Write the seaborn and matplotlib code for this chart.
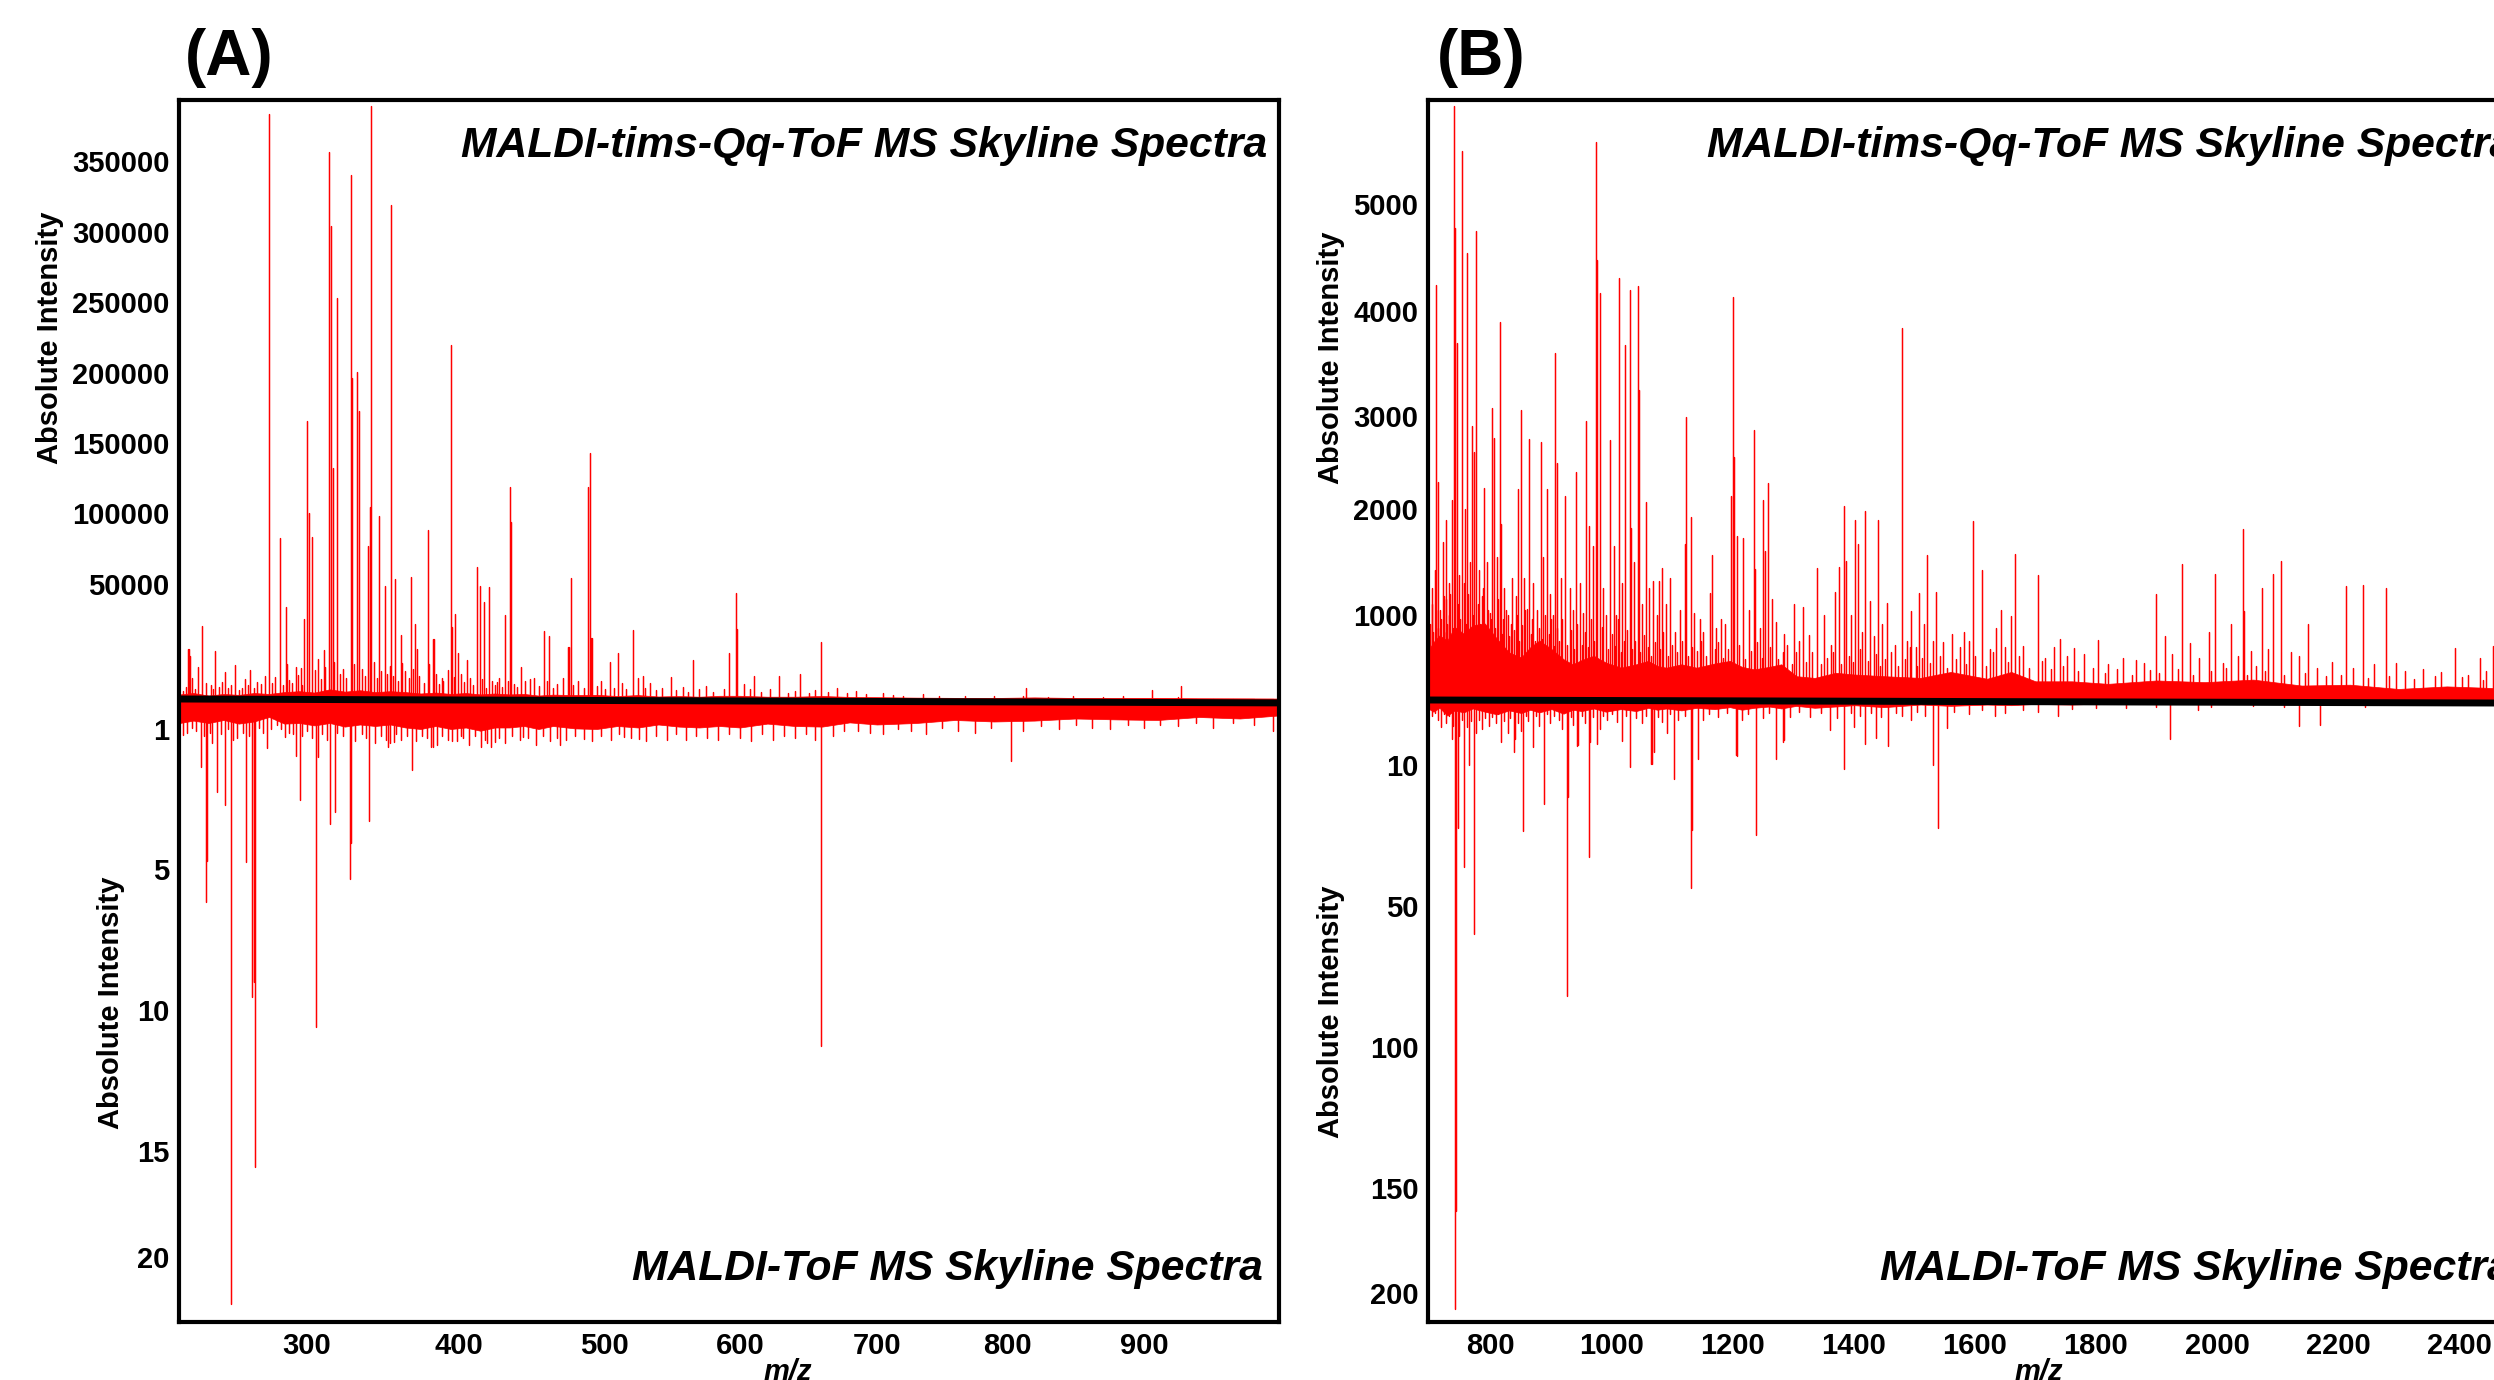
import numpy as np
import pandas as pd
import matplotlib
matplotlib.use("Agg")
import matplotlib.pyplot as plt
import seaborn as sns

sns.set_theme(style="white")
plt.rcParams["font.family"] = ["Liberation Sans", "DejaVu Sans"]

W, H = 2494, 1380

# panel A, upper spectrum
a_up_mz = [222, 221.7, 222.8, 228, 230.9, 236.4, 239.5, 245.9, 252.7, 259, 262.4, 269.9, 272, 274.7, 275, 282, 286, 286.6,
           292.7, 296.2, 298, 300, 301, 303, 307.5, 311.4, 314.5, 316, 317, 319.5, 320, 324, 329, 329.5, 332.7, 333, 334.5,
           340, 341.5, 342, 342.5, 347.5, 351.5, 355, 355.5, 358, 362, 362.8, 368.7, 371, 372.7, 380, 380.7, 383, 383.7,
           388.8, 395, 395.5, 398, 399.7, 399.9, 406, 413, 414.6, 417.6, 421, 426.7, 432, 435.5, 436, 443, 449, 458.8,
           459, 462, 462.5, 475.5, 476, 477, 489, 490.5, 491, 492, 504.4, 510, 521, 525, 528.4, 549, 565.5, 592, 597,
           597.6, 610, 628.5, 644, 659, 671, 814, 906, 927]
a_up_val = [21600, 21800, 18700, 13900, 31900, 6000, 20800, 11800, 14800, 8900, 12500, 6500, 10000, 383400, 161000, 82600,
            40000, 15100, 14100, 13600, 35000, 166000, 100000, 83000, 17500, 21500, 356000, 304500, 132000, 253000, 128000,
            12900, 340000, 196500, 21500, 201000, 172700, 77000, 104500, 389000, 233700, 97800, 49000, 14400, 319000, 53500,
            28000, 15800, 55000, 32700, 21800, 88000, 15100, 26000, 25900, 9300, 220000, 31500, 37000, 20000, 19400, 17000,
            62000, 49000, 42000, 48500, 7200, 36500, 118500, 93800, 13800, 8600, 29400, 29700, 27600, 27600, 22700, 22800,
            54000, 118500, 143000, 26700, 26600, 16100, 20000, 30000, 9300, 9800, 9500, 17000, 20000, 46000, 30600, 10000,
            10000, 11000, 25000, 4800, 4800, 3900, 5500]

# panel A, small peaks above the floor
a_minor_mz = [218, 220, 224, 226, 233, 238, 242, 244, 248, 250, 255, 257, 261, 265, 267, 277, 279, 284, 288, 290, 294, 297, 305,
              309, 312, 318, 322, 326, 331, 336, 338, 344, 346, 349, 353, 357, 360, 365, 367, 370, 374, 377, 385, 387, 390, 393,
              397, 402, 404, 408, 410, 416, 419, 423, 425, 428, 430, 434, 438, 440, 446, 452, 455, 461, 465, 468, 472, 479, 482,
              486, 495, 498, 501, 507, 513, 516, 530, 534, 538, 543, 553, 558, 562, 570, 575, 580, 588, 603, 607, 615, 622, 635,
              640, 650, 655, 664, 678, 685, 692, 705, 712, 720, 735, 748, 768, 790, 812, 830, 848, 870, 885, 925]
a_minor_val = [3500, 5200, 9000, 4500, 6800, 4200, 5200, 7500, 4800, 6200, 4000, 5000, 6200, 5000, 7200, 6800, 9500, 6000, 8200,
               7000, 10500, 6200, 12500, 8800, 14000, 16000, 11000, 9000, 15000, 13000, 10000, 16000, 9000, 12000, 11000, 9800,
               8000, 12000, 9000, 13000, 10000, 7000, 11000, 6500, 8000, 12500, 9500, 11000, 7500, 9000, 6000, 8500, 5000, 8000,
               6000, 9000, 5200, 8000, 6500, 5200, 7800, 9000, 5600, 8000, 5000, 6400, 9000, 6000, 8000, 4800, 5500, 7800, 4500,
               5000, 7000, 4200, 5000, 6800, 3800, 4800, 3900, 5200, 3200, 4200, 5800, 3000, 4500, 6500, 4200, 3000, 4200, 2800,
               3600, 2600, 3800, 3000, 2400, 3400, 2000, 2500, 1700, 1500, 2200, 1300, 1500, 1100, 1500, 1000, 1200, 900, 1100, 1000]

# panel A, lower spectrum
a_lo_mz = [218, 229.8, 229.8, 233, 234, 237, 240.5, 246, 249.5, 251.4, 259.7, 264, 265, 265.7, 273.8, 285.5, 293, 293, 295.3,
           306, 307, 315, 315, 318.4, 328.4, 329, 341, 353.7, 355, 357.4, 369, 369, 381.6, 383, 395.5, 403.3, 415.7, 419.5,
           425, 444.5, 470, 486, 514.5, 526, 659, 659.3, 686, 803, 994]
a_lo_val = [1.17, 2.08, 2.07, 6.17, 4.77, 1.4, 2.8, 3.16, 22.2, 1.31, 4.8, 9.55, 9.0, 15.76, 1.55, 1.22, 1.76, 1.77, 3.04,
            10.6, 1.8, 3.7, 2.0, 3.36, 5.36, 4.25, 3.62, 1.5, 1.4, 1.36, 2.17, 2.17, 1.5, 1.52, 1.33, 1.26, 1.5, 1.4,
            1.36, 1.22, 1.46, 1.29, 1.22, 1.29, 11.26, 4.77, 1.05, 1.9, 1.05]

# panel A, small peaks below the floor
a_lo_minor_mz = [221, 224, 227, 232, 236, 243, 248, 254, 258, 262, 268, 271, 276, 280, 283, 288, 291, 297, 300, 303, 310, 313, 320,
                 324, 332, 336, 339, 345, 349, 352, 359, 362, 366, 372, 376, 379, 386, 389, 393, 399, 402, 407, 411, 418, 422, 428,
                 432, 437, 442, 448, 453, 458, 463, 468, 474, 480, 492, 498, 505, 511, 520, 531, 538, 546, 553, 560, 568, 576, 584,
                 592, 600, 608, 616, 624, 632, 640, 648, 655, 668, 676, 695, 705, 716, 726, 738, 750, 762, 775, 788, 812, 825, 838,
                 850, 862, 875, 888, 900, 912, 925, 938, 950, 965, 980]
a_lo_minor_val = [1.1, 0.95, 1.05, 1.2, 1.1, 1.15, 1.0, 1.25, 1.1, 1.2, 0.95, 1.1, 1.0, 0.85, 1.0, 1.1, 1.15, 1.2, 1.05, 1.25, 1.15,
                  1.3, 1.1, 1.2, 1.35, 1.15, 1.25, 1.4, 1.2, 1.3, 1.15, 1.3, 1.2, 1.35, 1.2, 1.25, 1.45, 1.2, 1.3, 1.35, 1.2, 1.45,
                  1.2, 1.3, 1.5, 1.25, 1.4, 1.2, 1.3, 1.25, 1.45, 1.2, 1.35, 1.25, 1.3, 1.2, 1.35, 1.2, 1.3, 1.15, 1.25, 1.35, 1.2,
                  1.3, 1.15, 1.3, 1.2, 1.25, 1.3, 1.15, 1.25, 1.35, 1.15, 1.3, 1.2, 1.25, 1.15, 1.3, 1.2, 1.05, 1.1, 1.15, 1.0, 1.05,
                  1.15, 0.95, 1.05, 1.1, 0.95, 1.05, 0.9, 1.0, 0.85, 0.95, 1.0, 0.85, 0.95, 0.85, 0.9, 0.8, 0.95, 0.8, 0.85]

# panel A, unresolved floor
a_floor_mz = [216, 225, 235, 245, 255, 265, 275, 285, 295, 305, 315, 325, 335, 345, 355, 365, 375, 385, 395, 405, 415, 425,
              435, 445, 455, 465, 480, 495, 510, 525, 540, 555, 570, 585, 600, 620, 640, 660, 680, 700, 730, 760, 790, 820,
              850, 880, 910, 940, 970, 998]
a_floor_top = [2000, 2600, 1500, 2200, 1800, 2600, 2200, 3000, 3400, 2800, 4200, 3200, 3800, 3000, 3400, 3000, 2400, 2800,
               2200, 2600, 2000, 2400, 2000, 2200, 1500, 1900, 1700, 1800, 1300, 1700, 1100, 1300, 1000, 1400, 1400, 1000,
               1000, 1300, 900, 800, 600, 500, 450, 700, 450, 400, 450, 300, 250, 200]
a_floor_bot = [0.8, 0.72, 0.8, 0.7, 0.82, 0.75, 0.6, 0.82, 0.8, 0.88, 0.8, 0.92, 0.85, 0.9, 0.85, 0.95, 1.0, 0.9, 1.0, 0.95,
               1.05, 0.95, 0.95, 0.9, 1.0, 0.9, 0.98, 1.0, 0.9, 0.95, 0.85, 0.92, 0.95, 0.9, 0.95, 0.82, 0.9, 0.92, 0.78, 0.85,
               0.8, 0.7, 0.75, 0.72, 0.65, 0.68, 0.7, 0.6, 0.65, 0.55]

# panel B, upper spectrum
b_up_mz = [709, 713, 720, 726, 739.6, 741, 743.6, 752, 753, 752.5, 760, 769, 772.7, 775, 788, 802.5, 805, 815, 816.6, 845, 849,
           863, 882, 893, 906, 908.5, 922, 940, 957, 962, 974, 976, 979.6, 981, 996, 1012, 1022, 1029.5, 1031, 1043, 1044,
           1057, 1068, 1082, 1096, 1121, 1122, 1130, 1146, 1162, 1166, 1180, 1196.6, 1200, 1201.6, 1207, 1216, 1234, 1237,
           1250, 1253, 1258, 1271, 1301, 1316, 1339, 1369, 1375, 1384, 1387, 1402, 1407, 1419, 1426, 1440, 1455, 1479, 1480,
           1495, 1508, 1521, 1536, 1562, 1582, 1596, 1612, 1643, 1659, 1667, 1704, 1740, 1764, 1803, 1866, 1899, 1914, 1942,
           1956, 1987, 1997, 2024, 2043, 2044, 2056, 2075, 2093, 2106, 2122, 2151, 2214, 2241, 2279, 2296, 2394, 2434, 2456]
b_up_val = [4246, 2290, 1690, 1900, 5922, 4780, 3700, 5500, 5050, 3120, 4540, 2890, 2610, 4750, 2230, 3080, 2760, 3900, 1860,
            2210, 3060, 2750, 2720, 2210, 3600, 2490, 2140, 2400, 2950, 1840, 5580, 4480, 4170, 2640, 2740, 4310, 3680, 4200,
            1820, 4230, 3250, 2080, 1320, 1440, 1350, 1670, 2990, 1920, 950, 1210, 1570, 950, 2140, 4130, 2560, 1750, 1730,
            2850, 1430, 2100, 1600, 2280, 920, 1100, 1080, 1440, 1220, 1450, 2030, 1510, 1900, 1670, 1980, 1130, 1900, 1110,
            3840, 1930, 1040, 1210, 1570, 1220, 780, 800, 1890, 1420, 1050, 990, 1580, 1380, 720, 610, 710, 470, 1200, 750,
            1480, 670, 800, 1390, 890, 1810, 1040, 580, 1250, 1390, 1510, 560, 900, 1270, 1280, 1250, 440, 610, 500, 640]

# panel B, smaller peaks standing in the forest
b_minor_mz = [703, 707, 716, 723, 731, 735, 747, 757, 765, 780, 785, 793, 798, 810, 822, 828, 835, 841, 855, 860, 870, 876, 886,
              898, 903, 915, 930, 935, 947, 952, 968, 986, 990, 1003, 1007, 1017, 1036, 1050, 1062, 1074, 1078, 1089, 1104,
              1112, 1136, 1151, 1172, 1187, 1226, 1244, 1264, 1285, 1310, 1325, 1350, 1362, 1395, 1414, 1433, 1447, 1468, 1488,
              1502, 1515, 1530, 1548, 1575, 1590, 1625, 1635, 1650, 1680, 1715, 1730, 1752, 1780, 1820, 1845, 1880, 1925, 1970,
              2010, 2035, 2065, 2085, 2135, 2165, 2190, 2225, 2260, 2310, 2340, 2370, 2415, 2445]
b_minor_val = [1250, 1420, 1050, 1180, 1300, 2100, 1380, 2000, 1500, 1420, 1180, 1500, 1020, 1550, 1250, 1000, 1350, 1180, 1350, 1060,
               1300, 1050, 1550, 1200, 1000, 1350, 1250, 1050, 1300, 1020, 1650, 1250, 1000, 1650, 1000, 1300, 1500, 1100,
               1250, 1000, 1320, 1100, 800, 1050, 1020, 800, 850, 900, 1050, 850, 1150, 780, 700, 760, 1000, 650, 1000, 800,
               750, 900, 650, 700, 620, 900, 700, 680, 620, 700, 600, 850, 620, 640, 500, 620, 520, 540, 420, 500, 430, 540, 500,
               430, 520, 400, 600, 520, 380, 450, 380, 420, 340, 360, 330, 300, 340]

# panel B, the dense part of the forest
b_dense_mz = [700, 702, 705, 710, 712, 718, 722, 725, 728, 730, 733, 737, 745, 749, 755, 758, 762, 767, 771, 778, 782, 787, 790, 795,
              800, 807, 812, 818, 820, 825, 830, 833, 838, 843, 847, 852, 857, 866, 868, 873, 879, 884, 889, 896, 900, 905, 910, 913,
              918, 925, 933, 938, 943, 950, 955, 960, 965, 971, 984, 993, 1000, 1005, 1010, 1015, 1020, 1025, 1033, 1038, 1047, 1053,
              1060, 1065, 1071, 1080, 1085, 1092, 1100, 1108, 1115, 1125, 1133, 1140, 1148, 1155, 1170, 1176, 1184, 1192, 1210, 1220,
              1230, 1240, 1248, 1262, 1275, 1282, 1290, 1297, 1305, 1320, 1330, 1345, 1355, 1365, 1378, 1392, 1398, 1410, 1423, 1437,
              1443, 1451, 1462, 1472, 1485, 1492, 1505, 1512, 1526, 1542, 1553, 1568, 1585, 1600, 1618, 1630, 1655, 1672, 1690, 1710,
              1725, 1745, 1770, 1795, 1815, 1835, 1860, 1890, 1905, 1935, 1960, 1990, 2015, 2050, 2080, 2110, 2145, 2180, 2205, 2250,
              2285, 2325, 2360, 2405, 2440]
b_dense_val = [900, 1100, 800, 1050, 850, 950, 800, 1150, 900, 1000, 1200, 850, 1100, 950, 1300, 900, 1200, 850, 1000, 1100, 900,
               1250, 800, 1050, 950, 850, 1150, 780, 950, 1050, 750, 900, 820, 1000, 700, 880, 1050, 780, 950, 700, 850, 720, 1000, 780,
               950, 640, 850, 700, 950, 650, 820, 600, 900, 650, 800, 620, 950, 700, 860, 600, 780, 640, 950, 560, 700, 820, 600, 700,
               560, 760, 620, 520, 680, 600, 800, 520, 650, 560, 700, 520, 620, 580, 700, 520, 600, 680, 500, 600, 650, 480, 580, 680, 500,
               620, 480, 560, 650, 420, 560, 450, 560, 420, 500, 560, 420, 520, 450, 600, 460, 540, 400, 480, 560, 400, 480, 620, 400, 500,
               440, 520, 380, 480, 420, 520, 400, 560, 450, 520, 380, 460, 360, 400, 340, 380, 320, 370, 300, 350, 320, 360, 300, 340, 380,
               300, 340, 290, 320, 280, 300, 260, 280, 250, 280, 270, 240]

# panel B, lower spectrum
b_lo_mz = [717, 741, 742.5, 742.5, 745, 756, 763, 772, 772, 816, 817, 838, 840, 853, 869, 870, 888, 926, 927, 943, 944, 962, 964,
           975, 1017, 1030, 1030, 1064, 1067, 1070, 1091, 1103, 1131, 1132, 1142, 1142, 1205, 1206, 1238, 1271, 1271, 1283, 1285,
           1360, 1361, 1383, 1384, 1400, 1418, 1418, 1437, 1456, 1456, 1494, 1530, 1539, 1553, 1633, 1738, 1922, 1968, 2136,
           2171, 2245]
b_lo_val = [4.1, 212, 161, 75, 28, 39, 10, 60, 23, 6.4, 6.4, 8, 6, 28.8, 5.4, 7.2, 21, 82, 19, 7, 6.9, 36, 6.5, 6.7, 6.3, 10.5, 10.4,
            9.8, 9.8, 8, 5, 14, 45, 28.5, 9, 9, 8.5, 8.6, 29.8, 8.9, 9, 6.4, 6.2, 4.3, 4.6, 11, 10.6, 4.1, 6.5, 6.7, 5.9, 6.9, 7,
            3, 10, 28, 4.3, 2.5, 2.5, 6, 1.6, 4, 3.8, 1]

# panel B, small peaks below the baseline
b_lo_minor_mz = [703, 708, 712, 722, 726, 730, 735, 738, 748, 752, 760, 767, 776, 780, 785, 790, 796, 802, 808, 812, 822, 828, 832, 845,
                 850, 858, 862, 875, 880, 892, 897, 905, 912, 918, 932, 936, 950, 955, 968, 980, 985, 992, 1000, 1008, 1023, 1040, 1050,
                 1057, 1076, 1083, 1096, 1110, 1120, 1150, 1160, 1175, 1190, 1215, 1225, 1250, 1260, 1295, 1310, 1328, 1345, 1372, 1395,
                 1410, 1428, 1445, 1470, 1480, 1505, 1518, 1565, 1590, 1612, 1650, 1680, 1705, 1760, 1800, 1850, 1900, 1990, 2060, 2110]
b_lo_minor_val = [2.5, 2.0, 3.0, 2.2, 3.6, 2.5, 6.0, 4.0, 5.5, 3.0, 4.2, 3.2, 5.0, 3.0, 4.4, 2.8, 4.0, 2.6, 3.5, 2.2, 3.2, 5.0, 2.8, 3.6, 4.8,
                  2.5, 3.2, 2.4, 4.0, 2.2, 3.5, 2.4, 3.0, 4.5, 2.6, 3.8, 2.4, 3.5, 2.6, 4.5, 2.5, 3.0, 2.2, 3.4, 2.4, 2.8, 3.6, 2.4, 2.6, 3.4,
                  2.2, 3.0, 2.4, 3.0, 2.2, 2.6, 2.0, 3.0, 2.2, 2.8, 2.0, 2.6, 1.8, 2.6, 2.0, 2.8, 2.0, 2.4, 2.0, 2.6, 2.0, 2.4, 1.8, 2.4, 1.8,
                  2.2, 1.6, 2.0, 1.6, 1.8, 1.4, 1.2, 1.3, 1.0, 1.0, 0.9, 1.0]

# panel B, unresolved floor
b_floor_mz = [698, 705, 715, 728, 740, 755, 770, 790, 810, 830, 850, 865, 880, 900, 920, 935, 950, 970, 990, 1015, 1040, 1060, 1075,
              1090, 1115, 1140, 1170, 1195, 1215, 1235, 1260, 1280, 1305, 1335, 1370, 1400, 1450, 1510, 1560, 1620, 1660, 1700,
              1760, 1820, 1900, 1980, 2060, 2140, 2220, 2300, 2380, 2460, 2600]
b_floor_top = [600, 680, 760, 700, 860, 780, 880, 900, 720, 560, 500, 620, 700, 600, 480, 420, 470, 520, 440, 380, 420, 460, 400, 380,
               420, 380, 430, 460, 390, 360, 390, 420, 280, 260, 320, 300, 280, 260, 330, 250, 330, 220, 220, 190, 230, 210, 240,
               170, 180, 130, 160, 140, 120]
b_floor_bot = [1.4, 1.8, 1.2, 2.4, 1.6, 1.9, 1.3, 1.8, 2.2, 1.6, 2.0, 1.5, 1.9, 1.4, 2.1, 1.5, 1.7, 1.3, 1.8, 1.4, 1.7, 1.2, 1.5, 1.3,
               1.6, 1.2, 1.4, 1.1, 1.5, 1.2, 1.0, 1.3, 0.9, 1.2, 1.0, 0.8, 1.1, 0.7, 0.9, 0.7, 0.8, 0.6, 0.7, 0.5, 0.6, 0.4, 0.5,
               0.5, 0.4, 0.3, 0.3, 0.3, 0.3]

a_x_ticks = [300, 400, 500, 600, 700, 800, 900]
a_up_ticks = [50000, 100000, 150000, 200000, 250000, 300000, 350000]
a_lo_ticks = [1, 5, 10, 15, 20]
b_x_ticks = [800, 1000, 1200, 1400, 1600, 1800, 2000, 2200, 2400]
b_up_ticks = [1000, 2000, 3000, 4000, 5000]
b_lo_ticks = [10, 50, 100, 150, 200]
title_top = "MALDI-tims-Qq-ToF MS Skyline Spectra"
title_bot = "MALDI-ToF MS Skyline Spectra"


def node_scale(vals, fracs):
    vals, fracs = np.array(vals, float), np.array(fracs, float)
    return (lambda v: np.interp(v, vals, fracs), lambda f: np.interp(f, fracs, vals))


def trace(ax, mz, val, sign, lw=0.9):
    # one continuous trace: baseline, up to the peak, back to baseline
    x = np.repeat(mz, 3)
    y = np.zeros(len(x))
    y[1::3] = sign * np.array(val, float)
    df = pd.DataFrame({"mz": x, "intensity": y})
    sns.lineplot(data=df, x="mz", y="intensity", ax=ax, color="#ff0000", linewidth=lw, estimator=None, sort=False, errorbar=None)


def panel(rect, xlim, up, lo, floor, up_ticks, lo_ticks, x_ticks, ynodes, xnodes, base_end):
    ax = fig.add_axes(rect)
    fv = list(ynodes[0])
    ax.set_yscale("function", functions=node_scale(fv, ynodes[1]))
    if xnodes is not None:
        ax.set_xscale("function", functions=node_scale(xnodes[0], xnodes[1]))
    fm, ft, fb = floor
    ax.fill_between(fm, ft, -np.array(fb), color="#ff0000", linewidth=0.5)
    for mz, val in up:
        trace(ax, mz, val, 1)
    for mz, val in lo:
        trace(ax, mz, val, -1)
    sns.lineplot(x=[xlim[0], xlim[1]], y=[0, base_end], ax=ax, color="black", linewidth=5, errorbar=None)
    ax.set_xlim(*xlim)
    ax.set_ylim(fv[0], fv[-1])
    ax.set_xlabel("")
    ax.set_ylabel("")
    ax.set_xticks(x_ticks)
    ax.set_xticklabels([str(t) for t in x_ticks])
    yt = [-t for t in lo_ticks] + up_ticks
    ax.set_yticks(yt)
    ax.set_yticklabels([str(abs(t)) for t in yt])
    ax.minorticks_off()
    ax.tick_params(length=0, labelsize=21, pad=7, labelcolor="black")
    for lab in ax.get_xticklabels() + ax.get_yticklabels():
        lab.set_fontweight("bold")
    for s in ax.spines.values():
        s.set_visible(True)
        s.set_color("black")
        s.set_linewidth(3)
    return ax


def ftext(x, y, s, **kw):
    fig.text(x / W, 1 - y / H, s, ha=kw.pop("ha", "center"), va=kw.pop("va", "center"), color="black", **kw)


fig = plt.figure(figsize=(W / 100, H / 100), dpi=100, facecolor="white")

top, bot = 100, 1322
frac = lambda py: [(bot - p) / (bot - top) for p in py]

a_nodes = ([-23.07, -20, -15, -10, -5, -1, 0, 50000, 100000, 150000, 200000, 250000, 300000, 350000, 393000],
           frac([1322, 1257, 1151, 1010, 869, 729, 699, 584, 513, 443, 373, 302, 232, 161, 100]))
a_x = ([215.5, 300, 400, 500, 600, 700, 800, 900, 998.5],
       [(p - 179) / 1100 for p in [179, 307, 458.5, 604, 740, 877, 1007, 1144, 1279]])
ax_a = panel([179 / W, 1 - bot / H, 1100 / W, (bot - top) / H], (215.5, 998.5),
             [(a_up_mz, a_up_val), (a_minor_mz, a_minor_val)], [(a_lo_mz, a_lo_val), (a_lo_minor_mz, a_lo_minor_val)],
             (a_floor_mz, a_floor_top, a_floor_bot),
             a_up_ticks, a_lo_ticks, a_x_ticks, a_nodes, a_x, -0.13)

b_nodes = ([-222, -200, -150, -100, -50, -10, 0, 1000, 2000, 3000, 4000, 5000, 5978],
           frac([1322, 1293, 1188, 1047, 906, 765, 700, 615, 509, 416, 311, 204, 100]))
ax_b = panel([1428 / W, 1 - bot / H, 1152 / W, (bot - top) / H], (696, 2600),
             [(b_up_mz, b_up_val), (b_minor_mz, b_minor_val), (b_dense_mz, b_dense_val)],
             [(b_lo_mz, b_lo_val), (b_lo_minor_mz, b_lo_minor_val)], (b_floor_mz, b_floor_top, b_floor_bot),
             b_up_ticks, b_lo_ticks, b_x_ticks, b_nodes, None, -0.5)

ftext(229, 58, "(A)", fontsize=46, fontweight="bold")
ftext(1481, 58, "(B)", fontsize=46, fontweight="bold")
ftext(1267, 146, title_top, ha="right", fontsize=30.7, fontweight="bold", style="italic")
ftext(1263, 1269, title_bot, ha="right", fontsize=30.7, fontweight="bold", style="italic")
ftext(1707, 146, title_top, ha="left", fontsize=30.7, fontweight="bold", style="italic")
ftext(1880, 1269, title_bot, ha="left", fontsize=30.7, fontweight="bold", style="italic")
ftext(50, 338, "Absolute Intensity", rotation=90, fontsize=21, fontweight="bold")
ftext(111, 1003, "Absolute Intensity", rotation=90, fontsize=21, fontweight="bold")
ftext(1331, 358, "Absolute Intensity", rotation=90, fontsize=21, fontweight="bold")
ftext(1331, 1012, "Absolute Intensity", rotation=90, fontsize=21, fontweight="bold")
ftext(788, 1372, "m/z", fontsize=21, fontweight="bold", style="italic")
ftext(2039, 1372, "m/z", fontsize=21, fontweight="bold", style="italic")

fig.savefig("out.png", dpi=100)
